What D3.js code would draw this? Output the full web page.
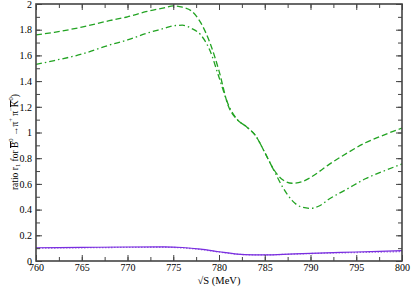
<!DOCTYPE html>
<html>
<head>
<meta charset="utf-8">
<script src="https://cdn.jsdelivr.net/npm/d3@7"></script>
<style>
  body { margin: 0; background: #fff; }
  svg text { font-family: "Liberation Serif", "Times New Roman", "DejaVu Serif", serif; fill: #000; }
</style>
</head>
<body>
<div id="chart"></div>
<script>
const w = 411,
      h = 288;

// sqrt(s) in MeV
const sDashed = [760, 762, 765, 768, 770, 772, 774, 775, 776, 777, 778, 779, 780, 781, 782, 783, 784, 785, 786, 787, 788, 789, 790, 792, 794, 796, 798, 800];
const rDashed = [1.76, 1.78, 1.82, 1.87, 1.90, 1.94, 1.97, 1.985, 1.975, 1.945, 1.855, 1.70, 1.48, 1.21, 1.10, 1.045, 0.975, 0.845, 0.71, 0.63, 0.605, 0.615, 0.65, 0.75, 0.84, 0.92, 0.98, 1.035];

const sDashDot = [760, 762, 765, 768, 770, 772, 774, 775, 776, 777, 778, 779, 780, 781, 782, 783, 784, 785, 786, 787, 788, 789, 790, 791, 792, 794, 796, 798, 800];
const rDashDot = [1.53, 1.56, 1.61, 1.68, 1.72, 1.77, 1.81, 1.83, 1.835, 1.81, 1.76, 1.64, 1.43, 1.22, 1.10, 1.045, 0.975, 0.845, 0.705, 0.57, 0.47, 0.42, 0.41, 0.43, 0.48, 0.56, 0.64, 0.70, 0.755];

const sPurple = [760, 765, 770, 774, 776, 778, 780, 782, 784, 785, 787, 790, 795, 800];
const rSolid  = [0.103, 0.106, 0.109, 0.110, 0.105, 0.092, 0.072, 0.054, 0.048, 0.047, 0.052, 0.060, 0.070, 0.080];
const rDotted = [0.100, 0.103, 0.106, 0.107, 0.102, 0.089, 0.070, 0.053, 0.048, 0.048, 0.051, 0.058, 0.066, 0.073];

const xTicks = [760, 765, 770, 775, 780, 785, 790, 795, 800];
const yTicks = [0, 0.2, 0.4, 0.6, 0.8, 1, 1.2, 1.4, 1.6, 1.8, 2];

const svg = d3.select('#chart')
  .append('svg')
  .attr('width', w)
  .attr('height', h);

const x = d3.scaleLinear().domain([760, 800]).range([36, 402]);
const y = d3.scaleLinear().domain([0, 2]).range([261, 4]);

const line = d3.line()
  .x(d => x(d[0]))
  .y(d => y(d[1]))
  .curve(d3.curveMonotoneX);

const green = '#22a322';

svg.append('path')
   .attr('d', line(d3.zip(sDashed, rDashed)))
   .attr('fill', 'none')
   .attr('stroke', green)
   .attr('stroke-width', 1.3)
   .attr('stroke-dasharray', '6,3');

svg.append('path')
   .attr('d', line(d3.zip(sDashDot, rDashDot)))
   .attr('fill', 'none')
   .attr('stroke', green)
   .attr('stroke-width', 1.3)
   .attr('stroke-dasharray', '6,3,1.5,3');

svg.append('path')
   .attr('d', line(d3.zip(sPurple, rDotted)))
   .attr('fill', 'none')
   .attr('stroke', '#a070e0')
   .attr('stroke-width', 1.3)
   .attr('stroke-dasharray', '1.5,1.5');

svg.append('path')
   .attr('d', line(d3.zip(sPurple, rSolid)))
   .attr('fill', 'none')
   .attr('stroke', '#7a2ee0')
   .attr('stroke-width', 1.2);

// axes, ticks inward on all four sides
const frame = '#444';
const minorX = d3.range(760, 800.1, 2.5);
const minorY = d3.range(0, 2.01, 0.1);

svg.append('g').attr('transform', `translate(0, ${y(0)})`)
   .call(d3.axisBottom(x).tickValues(minorX).tickSize(-4).tickFormat(''));
svg.append('g').attr('transform', `translate(0, ${y(0)})`)
   .call(d3.axisBottom(x).tickValues(xTicks).tickSize(-6).tickPadding(3).tickFormat(d3.format('d')));
svg.append('g').attr('transform', `translate(0, ${y(2)})`)
   .call(d3.axisTop(x).tickValues(minorX).tickSize(-4).tickFormat(''));
svg.append('g').attr('transform', `translate(0, ${y(2)})`)
   .call(d3.axisTop(x).tickValues(xTicks).tickSize(-6).tickFormat(''));
svg.append('g').attr('transform', `translate(${x(760)}, 0)`)
   .call(d3.axisLeft(y).tickValues(minorY).tickSize(-4).tickFormat(''));
svg.append('g').attr('transform', `translate(${x(760)}, 0)`)
   .call(d3.axisLeft(y).tickValues(yTicks).tickSize(-6).tickPadding(4).tickFormat(d => String(+d.toFixed(1))));
svg.append('g').attr('transform', `translate(${x(800)}, 0)`)
   .call(d3.axisRight(y).tickValues(minorY).tickSize(-4).tickFormat(''));
svg.append('g').attr('transform', `translate(${x(800)}, 0)`)
   .call(d3.axisRight(y).tickValues(yTicks).tickSize(-6).tickFormat(''));

svg.selectAll('g').attr('font-family', null).attr('font-size', null);
svg.selectAll('.domain').remove();
svg.selectAll('.tick line').attr('stroke', frame).attr('stroke-width', 1);
svg.selectAll('.tick text')
   .style('font-size', '10px')
   .attr('fill', '#000');

svg.append('rect')
   .attr('x', x(760))
   .attr('y', y(2))
   .attr('width', x(800) - x(760))
   .attr('height', y(0) - y(2))
   .attr('fill', 'none')
   .attr('stroke', frame)
   .attr('stroke-width', 1.6);

// axis titles
svg.append('text')
   .attr('x', (x(760) + x(800)) / 2)
   .attr('y', 284)
   .attr('text-anchor', 'middle')
   .style('font-size', '10.5px')
   .text('\u221AS (MeV)');

const yt = svg.append('text')
   .attr('transform', 'translate(18, 142) rotate(-90)')
   .attr('text-anchor', 'middle')
   .style('font-size', '9.5px');
yt.append('tspan').text('ratio r');
yt.append('tspan').attr('dy', 2).style('font-size', '6.5px').text('1');
yt.append('tspan').attr('dy', -2).text(' for ');
yt.append('tspan').style('text-decoration', 'overline').text('B');
yt.append('tspan').attr('dy', -5).style('font-size', '6.5px').text('0');
yt.append('tspan').attr('dy', 5).text(' \u2192\u03C0');
yt.append('tspan').attr('dy', -5).style('font-size', '6.5px').text('+');
yt.append('tspan').attr('dy', 5).text(' \u03C0');
yt.append('tspan').attr('dy', -5).style('font-size', '6.5px').text('\u2212');
yt.append('tspan').attr('dy', 5).style('text-decoration', 'overline').text('K');
yt.append('tspan').attr('dy', -5).style('font-size', '6.5px').text('0');
yt.append('tspan').attr('dy', 5).text(')');
</script>
</body>
</html>
